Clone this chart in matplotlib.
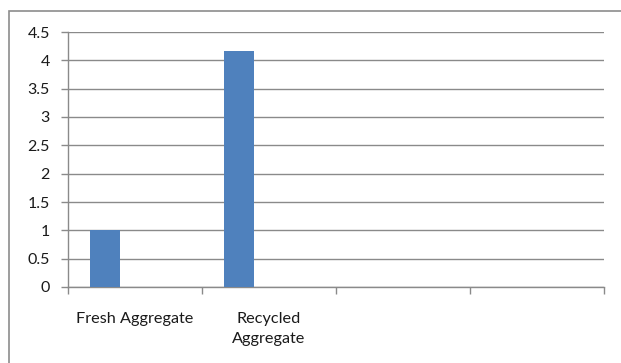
import matplotlib.pyplot as plt
from matplotlib.patches import Rectangle
import numpy as np

# dados
categorias = ["Fresh Aggregate", "Recycled\nAggregate", "", ""]
valores = [1.0, 4.16, np.nan, np.nan]
yticks = [0, 0.5, 1, 1.5, 2, 2.5, 3, 3.5, 4, 4.5]

plt.rcParams['font.family'] = ['Lato', 'DejaVu Sans']

fig = plt.figure(figsize=(6.21, 3.63), dpi=100)
ax = fig.add_axes([68 / 621, 76 / 363, 536 / 621, 255 / 363])

# moldura externa (estilo Excel, cortada à direita e embaixo)
fig.patches.append(Rectangle((9 / 621, -0.1), 1.2, (352 / 363) + 0.1, transform=fig.transFigure,
                             fill=False, edgecolor='#8c8c8c', linewidth=1.2))

# agrupamento com 3 séries e gap de 150%: só a primeira série tem valores
n = len(categorias)
x = np.arange(n)
w = 1 / 4.5
ax.bar(x - 0.5 + 1.25 * w, valores, width=w, color='#4F81BD', zorder=3)

ax.set_xlim(-0.5, n - 0.5)
ax.set_ylim(0, 4.5)
ax.set_yticks(yticks)
ax.set_yticklabels([f'{v:g}' for v in yticks], fontsize=11.5, color='#1a1a1a')
ax.grid(axis='y', color='#8a8a8a', linewidth=1.0, zorder=0)

ax.set_xticks(x)
ax.set_xticklabels(categorias, fontsize=11.7, color='#1a1a1a', linespacing=1.5, va='top')
ax.tick_params(axis='x', which='major', length=0, pad=18)
ax.set_xticks(np.arange(n + 1) - 0.5, minor=True)
ax.tick_params(axis='x', which='minor', length=5, color='#8a8a8a', width=1.0)
ax.tick_params(axis='y', length=5, color='#8a8a8a', width=1.0, pad=8)

for lado in ['top', 'right']:
    ax.spines[lado].set_visible(False)
for lado in ['left', 'bottom']:
    ax.spines[lado].set_color('#8a8a8a')
    ax.spines[lado].set_linewidth(1.0)

plt.savefig('out.png', dpi=100)
